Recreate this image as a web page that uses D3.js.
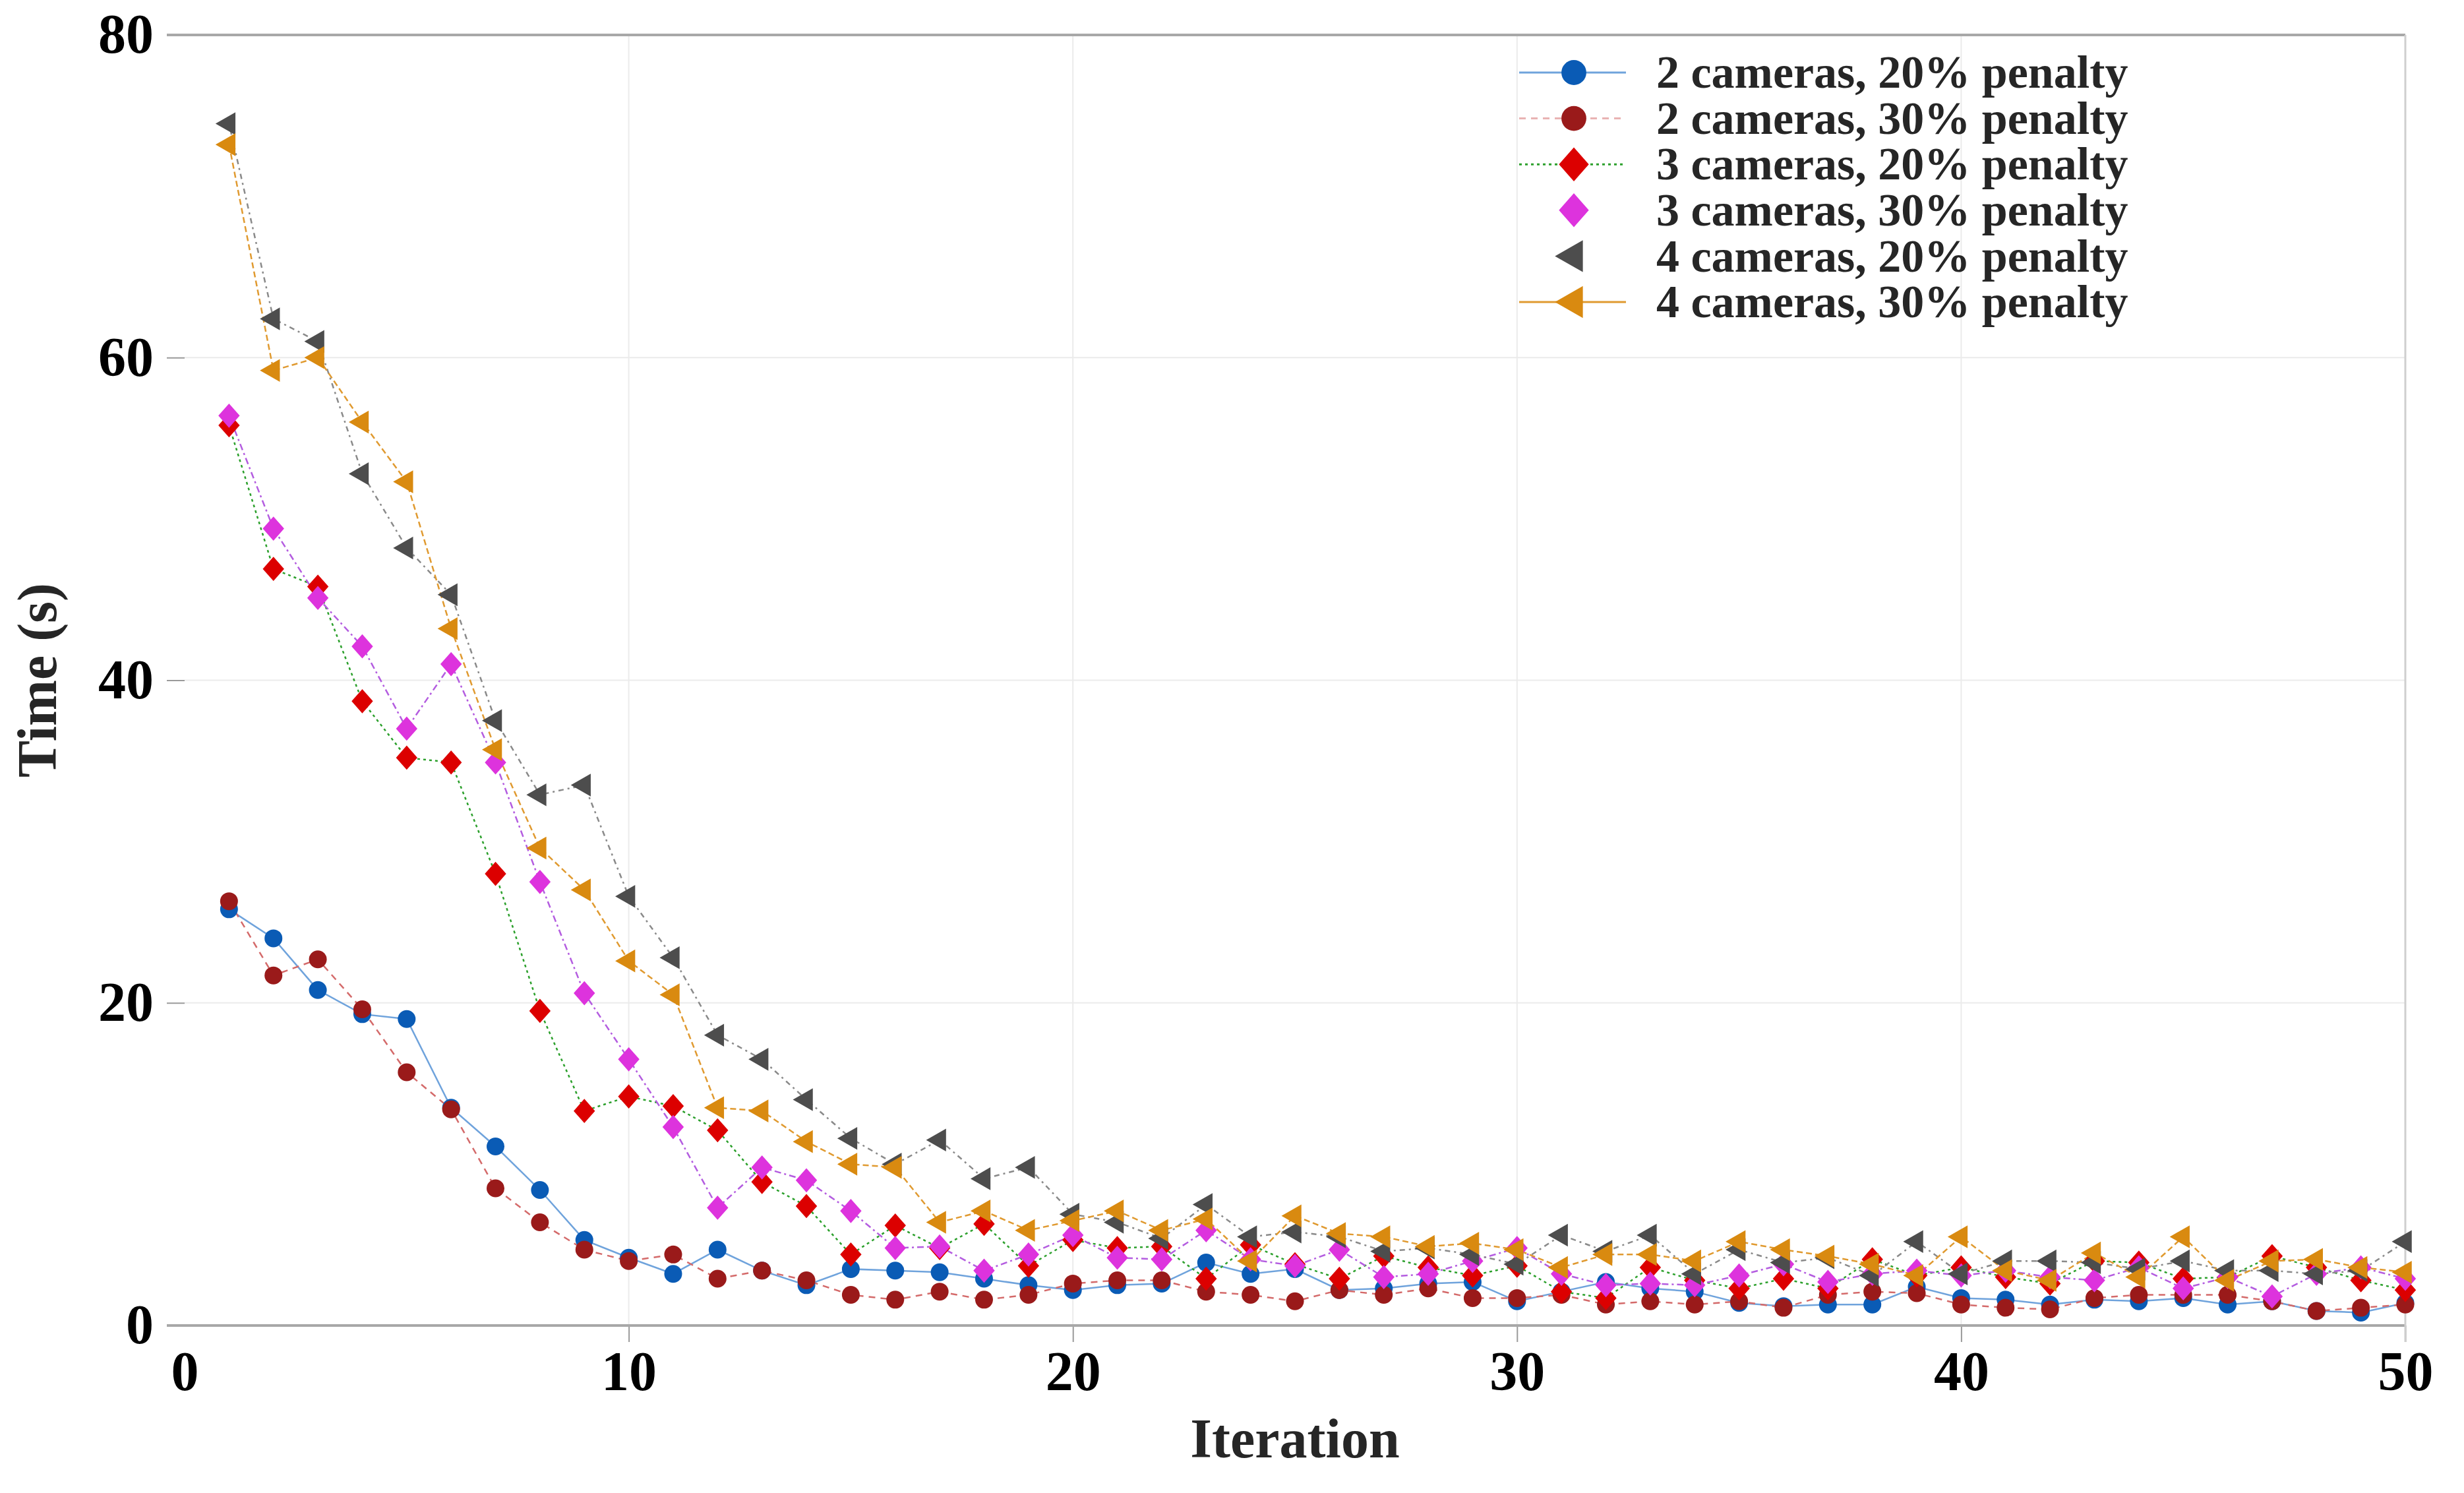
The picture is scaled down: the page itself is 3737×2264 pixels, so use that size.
<!DOCTYPE html>
<html>
<head>
<meta charset="utf-8">
<script src="https://cdn.jsdelivr.net/npm/d3@7"></script>
<style>
  body { margin: 0; background: #fff; }
  text { font-family: "Liberation Serif", "Times New Roman", serif; font-weight: bold; }
</style>
</head>
<body>
<div id="chart"></div>
<script>
// datos
var iterations = d3.range(1, 51);

var cam2_p20 = [25.8, 24.0, 20.8, 19.3, 19.0, 13.5, 11.1, 8.4, 5.3, 4.2,
                3.2, 4.7, 3.4, 2.5, 3.5, 3.4, 3.3, 2.9, 2.5, 2.2,
                2.5, 2.6, 3.9, 3.2, 3.5, 2.2, 2.3, 2.6, 2.7, 1.5,
                2.1, 2.7, 2.3, 2.1, 1.4, 1.2, 1.3, 1.3, 2.4, 1.7,
                1.6, 1.3, 1.6, 1.5, 1.7, 1.3, 1.5, 0.9, 0.8, 1.4];
var cam2_p30 = [26.3, 21.7, 22.7, 19.6, 15.7, 13.4, 8.5, 6.4, 4.7, 4.0,
                4.4, 2.9, 3.4, 2.8, 1.9, 1.6, 2.1, 1.6, 1.9, 2.6,
                2.8, 2.8, 2.1, 1.9, 1.5, 2.2, 1.9, 2.3, 1.7, 1.7,
                1.9, 1.3, 1.5, 1.3, 1.5, 1.1, 1.9, 2.1, 2.0, 1.3,
                1.1, 1.0, 1.7, 1.9, 1.9, 1.9, 1.5, 0.9, 1.1, 1.3];
var cam3_p20 = [55.8, 46.9, 45.8, 38.7, 35.2, 34.9, 28.0, 19.5, 13.3, 14.2,
                13.6, 12.1, 8.9, 7.4, 4.4, 6.2, 4.8, 6.3, 3.7, 5.3,
                4.8, 4.9, 2.9, 5.0, 3.8, 2.9, 4.3, 3.6, 3.1, 3.7,
                2.1, 1.7, 3.6, 2.8, 2.3, 2.9, 2.3, 4.1, 3.1, 3.6,
                3.0, 2.6, 4.0, 3.9, 2.9, 3.0, 4.3, 3.6, 2.8, 2.2];
var cam3_p30 = [56.4, 49.4, 45.1, 42.1, 37.0, 41.0, 34.9, 27.5, 20.6, 16.5,
                12.3, 7.3, 9.8, 9.0, 7.1, 4.8, 4.9, 3.4, 4.4, 5.6,
                4.2, 4.1, 5.9, 4.1, 3.7, 4.7, 3.0, 3.2, 4.0, 4.8,
                3.2, 2.5, 2.6, 2.5, 3.1, 3.8, 2.7, 3.2, 3.4, 3.1,
                3.4, 3.0, 2.8, 3.6, 2.3, 3.0, 1.8, 3.2, 3.6, 2.9];
var cam4_p20 = [74.5, 62.4, 61.0, 52.8, 48.2, 45.3, 37.5, 32.9, 33.5, 26.6,
                22.8, 18.0, 16.5, 14.0, 11.6, 10.0, 11.5, 9.1, 9.8, 6.9,
                6.4, 5.4, 7.5, 5.5, 5.8, 5.5, 4.6, 4.8, 4.4, 3.8,
                5.6, 4.6, 5.6, 3.2, 4.7, 3.9, 4.2, 3.1, 5.2, 3.2,
                4.0, 4.0, 3.9, 3.5, 4.0, 3.4, 3.4, 3.2, 3.4, 5.2];
var cam4_p30 = [73.2, 59.2, 60.0, 56.0, 52.3, 43.2, 35.7, 29.6, 27.0, 22.6,
                20.5, 13.5, 13.3, 11.4, 10.0, 9.8, 6.4, 7.1, 5.9, 6.5,
                7.1, 5.9, 6.6, 4.0, 6.8, 5.7, 5.5, 4.9, 5.1, 4.7,
                3.6, 4.4, 4.4, 4.0, 5.2, 4.7, 4.3, 3.8, 3.1, 5.5,
                3.4, 2.8, 4.5, 3.0, 5.5, 2.8, 4.0, 4.1, 3.6, 3.3];

var labels = ["2 cameras, 20% penalty", "2 cameras, 30% penalty",
              "3 cameras, 20% penalty", "3 cameras, 30% penalty",
              "4 cameras, 20% penalty", "4 cameras, 30% penalty"];
var xTicks = [0, 10, 20, 30, 40, 50];
var yTicks = [0, 20, 40, 60, 80];

var series = [
    {name: labels[0], values: cam2_p20, mark: "circle",   fill: "#0a5bb5", line: "#6fa3dc", dash: null,       legLine: true},
    {name: labels[1], values: cam2_p30, mark: "circle",   fill: "#9a1a1a", line: "#d46a6a", dash: "10,8",     legLine: true},
    {name: labels[2], values: cam3_p20, mark: "diamond",  fill: "#dc0000", line: "#2ca02c", dash: "4,5",      legLine: true},
    {name: labels[3], values: cam3_p30, mark: "diamond",  fill: "#dd33dd", line: "#b45de0", dash: "10,5,3,5", legLine: false},
    {name: labels[4], values: cam4_p20, mark: "triangle", fill: "#4d4d4d", line: "#8a8a8a", dash: "3,6,8,6",  legLine: false},
    {name: labels[5], values: cam4_p30, mark: "triangle", fill: "#d98a10", line: "#e09a30", dash: "9,5",      legLine: true}
];

var W = 3737, H = 2264;
var x = d3.scaleLinear().domain([0, 50]).range([280, 3648]);
var y = d3.scaleLinear().domain([0, 80]).range([2010, 53]);

var svg = d3.select("#chart").append("svg")
    .attr("width", W).attr("height", H);

// rejilla
svg.append("g").selectAll("line")
    .data([10, 20, 30, 40]).enter().append("line")
    .attr("x1", d => x(d)).attr("x2", d => x(d))
    .attr("y1", y(80)).attr("y2", y(0))
    .attr("stroke", "#ebebeb").attr("stroke-width", 2);
svg.append("g").selectAll("line")
    .data([20, 40, 60]).enter().append("line")
    .attr("x1", x(0)).attr("x2", x(50))
    .attr("y1", d => y(d)).attr("y2", d => y(d))
    .attr("stroke", "#ebebeb").attr("stroke-width", 2);

// ejes
var xAxis = d3.axisBottom(x).tickValues(xTicks).tickSize(25).tickSizeOuter(0);
var yAxis = d3.axisLeft(y).tickValues(yTicks).tickSize(27).tickSizeOuter(0).tickPadding(20);

var gx = svg.append("g").attr("transform", "translate(0," + y(0) + ")").call(xAxis);
gx.select(".domain").remove();
gx.selectAll(".tick line").attr("stroke", "#9a9a9a").attr("stroke-width", 2)
    .filter(d => d === 0).remove();
gx.selectAll(".tick text").attr("dy", null).attr("y", 98)
    .attr("font-size", 84).attr("fill", "#000");

var gy = svg.append("g").attr("transform", "translate(" + x(0) + ",0)").call(yAxis);
gy.select(".domain").remove();
gy.selectAll(".tick line").attr("stroke", "#9a9a9a").attr("stroke-width", 2);
gy.selectAll(".tick text").attr("font-size", 84).attr("fill", "#000");

// bordes
svg.append("line").attr("x1", 253).attr("x2", x(50)).attr("y1", y(0)).attr("y2", y(0))
    .attr("stroke", "#a8a8a8").attr("stroke-width", 4);
svg.append("line").attr("x1", 253).attr("x2", x(50)).attr("y1", y(80)).attr("y2", y(80))
    .attr("stroke", "#a8a8a8").attr("stroke-width", 4);
svg.append("line").attr("x1", x(50)).attr("x2", x(50)).attr("y1", y(80)).attr("y2", y(0) + 25)
    .attr("stroke", "#cfcfcf").attr("stroke-width", 3);

// titulos
svg.append("text").attr("x", (x(0) + x(50)) / 2).attr("y", 2210)
    .attr("text-anchor", "middle").attr("font-size", 84).attr("fill", "#262626")
    .text("Iteration");
svg.append("text").attr("transform", "translate(85," + ((y(0) + y(80)) / 2) + ") rotate(-90)")
    .attr("text-anchor", "middle").attr("font-size", 84).attr("fill", "#262626")
    .text("Time (s)");

function markerPath(type) {
    if (type === "diamond") return "M0,-17L15,0L0,17L-15,0Z";
    if (type === "triangle") return "M-19,0L9,-16L9,16Z";
    return null;
}

function drawMark(g, s, cx, cy, k) {
    if (s.mark === "circle") {
        g.append("circle").attr("cx", cx).attr("cy", cy).attr("r", 13.5 * k).attr("fill", s.fill);
    } else {
        g.append("path").attr("d", markerPath(s.mark))
            .attr("transform", "translate(" + cx + "," + cy + ") scale(" + (1.08 * k) + ")")
            .attr("fill", s.fill);
    }
}

var valueline = d3.line().x((d, i) => x(iterations[i])).y(d => y(d));

// lineas
series.forEach(function(s) {
    svg.append("path")
        .attr("d", valueline(s.values))
        .attr("fill", "none")
        .attr("stroke", s.line)
        .attr("stroke-width", 2.5)
        .attr("stroke-dasharray", s.dash);
});

// marcadores
series.forEach(function(s) {
    var g = svg.append("g");
    s.values.forEach(function(v, i) {
        drawMark(g, s, x(iterations[i]), y(v), 1);
    });
});

// leyenda
var legend = svg.append("g");
series.forEach(function(s, i) {
    var ly = 110 + i * 69.6;
    if (s.legLine) {
        legend.append("line").attr("x1", 2304).attr("x2", 2466).attr("y1", ly).attr("y2", ly)
            .attr("stroke", s.line).attr("stroke-width", 3)
            .attr("stroke-dasharray", i === 5 ? null : s.dash)
            .attr("opacity", i === 1 ? 0.5 : 1);
    }
    drawMark(legend, s, 2387, ly, 1.4);
    legend.append("text").attr("x", 2512).attr("y", ly).attr("dy", "0.33em")
        .attr("font-size", 70).attr("fill", "#262626").text(s.name);
});
</script>
</body>
</html>
